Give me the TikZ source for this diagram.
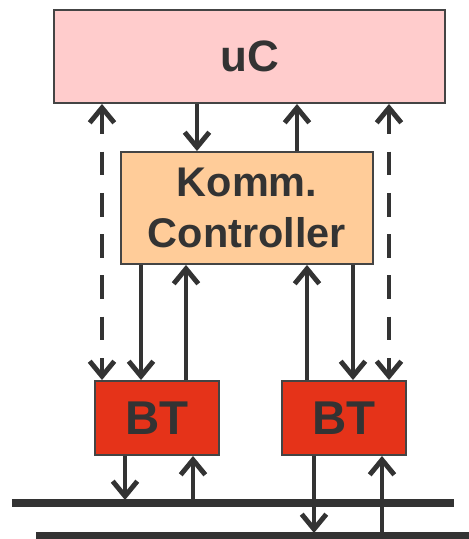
\documentclass[tikz,border=0pt]{standalone}
\usepackage{fontspec}
\setmainfont{Liberation Sans}
\definecolor{ucpink}{RGB}{255,204,204}
\definecolor{kommorange}{RGB}{255,204,153}
\definecolor{btred}{RGB}{229,51,25}
\definecolor{darkline}{RGB}{51,51,51}
\definecolor{boxedge}{RGB}{68,68,68}
\usetikzlibrary{arrows.meta}

\begin{document}
\begin{tikzpicture}[x=0.02cm,y=-0.02cm,
  blk/.style={draw=boxedge,line width=1.1pt,inner sep=0pt,text=darkline,font=\bfseries\fontsize{25}{30}\selectfont},
  arr/.style={draw=darkline,line width=2.8pt,-{Straight Barb[length=8.5pt,width=14pt]}},
  dblarr/.style={arr,{Straight Barb[length=8.5pt,width=14pt]}-{Straight Barb[length=8.5pt,width=14pt]},dash pattern=on 13.5pt off 10pt},
  bus/.style={draw=darkline,line width=4pt}]
\useasboundingbox (0,0) rectangle (469,539);
\node[blk,fill=ucpink,minimum width=7.82cm,minimum height=1.86cm] (uc) at (249.5,56.5) {uC};
\node[blk,fill=kommorange,minimum width=5.04cm,minimum height=2.24cm,align=center,font=\bfseries\fontsize{23.6}{29.5}\selectfont] (komm) at (247,208) {Komm.\\Controller};
\node[blk,fill=btred,minimum width=2.48cm,minimum height=1.48cm,font=\bfseries\fontsize{27}{30}\selectfont] (btl) at (157,418) {BT};
\node[blk,fill=btred,minimum width=2.48cm,minimum height=1.48cm,font=\bfseries\fontsize{27}{30}\selectfont] (btr) at (344,418) {BT};
\coordinate (busa1) at (12,503);
\coordinate (busa2) at (454,503);
\coordinate (busb1) at (36,536);
\coordinate (busb2) at (469,536);
\draw[bus] (busa1) -- (busa2);
\draw[bus] (busb1) -- (busb2);
\draw[dblarr] (102,0 |- uc.south) -- (102,0 |- btl.north);
\draw[dblarr] (389,0 |- uc.south) -- (389,0 |- btr.north);
\draw[arr] (197,0 |- uc.south) -- (197,0 |- komm.north);
\draw[arr] (297,0 |- komm.north) -- (297,0 |- uc.south);
\draw[arr] (141,0 |- komm.south) -- (141,0 |- btl.north);
\draw[arr] (186,0 |- btl.north) -- (186,0 |- komm.south);
\draw[arr] (307,0 |- btr.north) -- (307,0 |- komm.south);
\draw[arr] (353,0 |- komm.south) -- (353,0 |- btr.north);
\draw[arr] (125,0 |- btl.south) -- (125,500);
\draw[arr] (193,0 |- busa1) -- (193,0 |- btl.south);
\draw[arr] (314,0 |- btr.south) -- (314,533);
\draw[arr] (382,0 |- busb1) -- (382,0 |- btr.south);
\end{tikzpicture}
\end{document}
